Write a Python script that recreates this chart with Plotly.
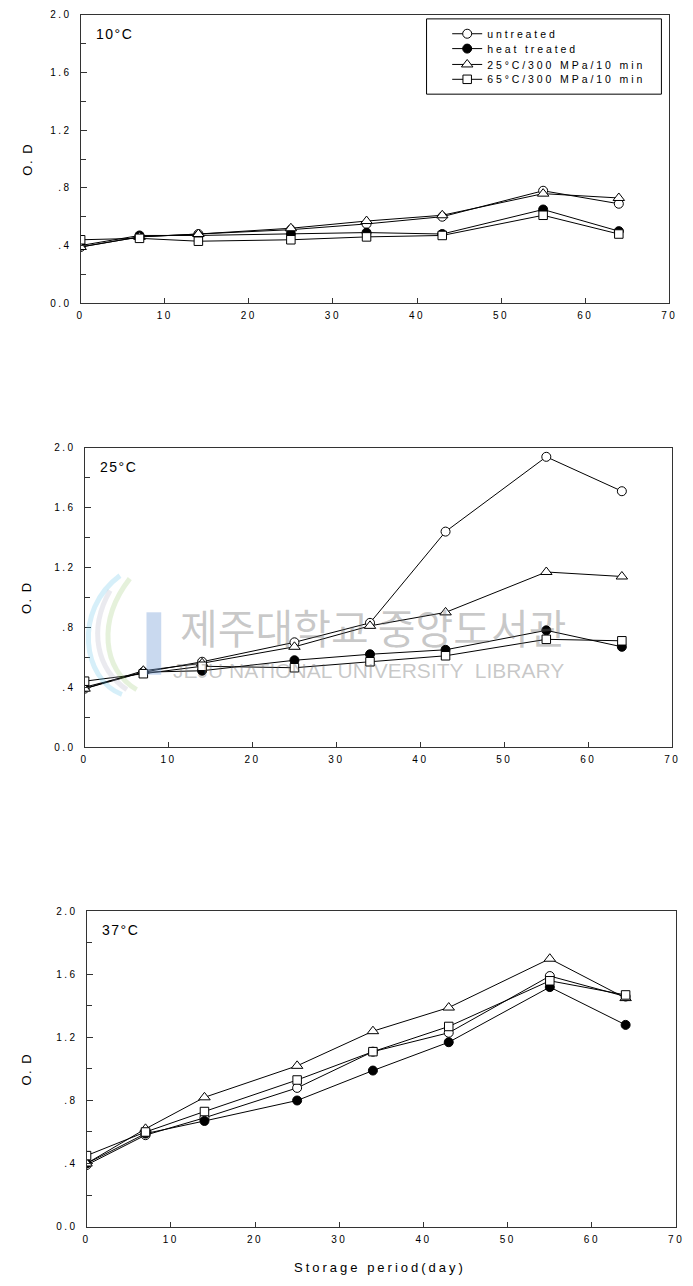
import plotly.graph_objects as go

W, H = 693, 1286
FONT = "Liberation Sans, Arial, sans-serif"

# ---- data -------------------------------------------------------------
days = [0, 7, 14, 25, 34, 43, 55, 64]
series_names = ["untreated", "heat treated", "25°C/300 MPa/10 min", "65°C/300 MPa/10 min"]
panel_labels = ["10°C", "25°C", "37°C"]
x_ticks = [0, 10, 20, 30, 40, 50, 60, 70]
y_ticks = [0.0, 0.4, 0.8, 1.2, 1.6, 2.0]
y_tick_labels = ["0.0", ".4", ".8", "1.2", "1.6", "2.0"]
y_minor_ticks = [0.2, 0.6, 1.0, 1.4, 1.8]

# storage at 10 °C
od10_untreated = [0.39, 0.46, 0.48, 0.51, 0.55, 0.60, 0.78, 0.69]
od10_heat = [0.40, 0.47, 0.47, 0.48, 0.49, 0.48, 0.65, 0.50]
od10_hhp25 = [0.39, 0.46, 0.48, 0.52, 0.57, 0.61, 0.76, 0.73]
od10_hhp65 = [0.44, 0.45, 0.43, 0.44, 0.46, 0.47, 0.61, 0.48]

# storage at 25 °C
od25_untreated = [0.39, 0.50, 0.57, 0.70, 0.83, 1.44, 1.94, 1.71]
od25_heat = [0.40, 0.50, 0.51, 0.58, 0.62, 0.65, 0.78, 0.67]
od25_hhp25 = [0.39, 0.51, 0.56, 0.67, 0.81, 0.90, 1.17, 1.14]
od25_hhp65 = [0.44, 0.49, 0.54, 0.53, 0.57, 0.61, 0.72, 0.71]

# storage at 37 °C
od37_untreated = [0.39, 0.58, 0.69, 0.88, 1.11, 1.23, 1.59, 1.46]
od37_heat = [0.40, 0.59, 0.67, 0.80, 0.99, 1.17, 1.52, 1.28]
od37_hhp25 = [0.40, 0.62, 0.82, 1.02, 1.24, 1.39, 1.70, 1.45]
od37_hhp65 = [0.45, 0.60, 0.73, 0.93, 1.11, 1.27, 1.56, 1.47]

panels = [
    [od10_untreated, od10_heat, od10_hhp25, od10_hhp65],
    [od25_untreated, od25_heat, od25_hhp25, od25_hhp65],
    [od37_untreated, od37_heat, od37_hhp25, od37_hhp65],
]

# ---- styling ------------------------------------------------------------
marker_symbols = ["circle", "circle", "triangle-up", "square"]
marker_fill = ["white", "black", "white", "white"]
marker_size = [9, 9, 10, 8.5]
legend_ids = ["legend", "legend2", "legend3", "legend4"]
legend_rows = [28, 43, 59, 74]          # pixel row of each legend entry

# plot boxes in pixels: left, right, top, bottom
boxes = [(78, 677, 9, 300), (82, 680, 446, 748), (84, 684, 914, 1232)]


def fx(p):
    return p / W


def fy(p):
    return 1 - p / H


def spaced(text, px):
    return f'<span style="letter-spacing:{px}px">{text}</span>'


fig = go.Figure()

for i, series in enumerate(panels):
    suffix = "" if i == 0 else str(i + 1)
    for j, vals in enumerate(series):
        fig.add_trace(go.Scatter(
            x=days, y=vals,
            xaxis="x" + suffix, yaxis="y" + suffix,
            mode="lines+markers",
            name=spaced(series_names[j], 2.9),
            legend=legend_ids[j],
            showlegend=(i == 0),
            line=dict(color="black", width=1),
            marker=dict(symbol=marker_symbols[j], size=marker_size[j],
                        color=marker_fill[j],
                        line=dict(color="black", width=1)),
            hoverinfo="x+y",
        ))

layout = dict(
    width=W, height=H,
    margin=dict(l=0, r=0, t=0, b=0),
    paper_bgcolor="white",
    plot_bgcolor="white",
    font=dict(family=FONT, color="black", size=10),
    annotations=[],
    shapes=[],
)

axis_color = "#333333"
for i, (x0, x1, y0, y1) in enumerate(boxes):
    suffix = "" if i == 0 else str(i + 1)
    layout["xaxis" + suffix] = dict(
        domain=[fx(x0), fx(x1)], range=[0, 70], anchor="y" + suffix,
        tickmode="array", tickvals=x_ticks,
        ticktext=[spaced(str(t), 2.5) for t in x_ticks],
        ticks="inside", ticklen=5, tickcolor=axis_color, tickwidth=1,
        showline=True, mirror=True, linecolor=axis_color, linewidth=1,
        showgrid=False, zeroline=False,
        tickfont=dict(size=10, family=FONT), ticklabelstandoff=3,
    )
    layout["yaxis" + suffix] = dict(
        domain=[fy(y1), fy(y0)], range=[0, 2], anchor="x" + suffix,
        tickmode="array", tickvals=y_ticks,
        ticktext=[spaced(t, 2.5) for t in y_tick_labels],
        ticks="inside", ticklen=6, tickcolor=axis_color, tickwidth=1,
        minor=dict(tickmode="array", tickvals=y_minor_ticks, ticks="inside",
                   ticklen=5, tickcolor=axis_color, showgrid=False),
        showline=True, mirror=True, linecolor=axis_color, linewidth=1,
        showgrid=False, zeroline=False,
        tickfont=dict(size=10, family=FONT), ticklabelstandoff=6,
    )
    # temperature label inside the frame
    layout["annotations"].append(dict(
        text=spaced(panel_labels[i], 1.5), xref="paper", yref="paper",
        x=fx(x0 + 14), y=fy(y0 + 19), xanchor="left", yanchor="middle",
        showarrow=False, font=dict(size=14, family=FONT, color="black"),
    ))
    # y-axis title
    layout["annotations"].append(dict(
        text=spaced("O. D", 1.5), xref="paper", yref="paper",
        x=fx(23), y=fy((y0 + y1) / 2), xanchor="center", yanchor="middle",
        textangle=-90, showarrow=False,
        font=dict(size=13, family=FONT, color="black"),
    ))

layout["annotations"].append(dict(
    text=spaced("Storage period(day)", 3), xref="paper", yref="paper",
    x=fx(383), y=fy(1273), xanchor="center", yanchor="middle",
    showarrow=False, font=dict(size=13, family=FONT, color="black"),
))

# legend: one entry per legend so the row spacing can be set exactly
for lid, row in zip(legend_ids, legend_rows):
    layout[lid] = dict(
        x=fx(451), y=fy(row), xanchor="left", yanchor="middle",
        bgcolor="rgba(0,0,0,0)", borderwidth=0,
        font=dict(size=10.5, family=FONT, color="black"),
    )
layout["shapes"].append(dict(
    type="rect", xref="paper", yref="paper",
    x0=fx(430), x1=fx(669), y0=fy(89), y1=fy(13),
    line=dict(color="black", width=1), fillcolor="rgba(0,0,0,0)", layer="above",
))

# library watermark over the 25 °C panel
wm = "rgba(110,110,110,0.38)"
layout["annotations"].append(dict(
    text="제주대학교 중앙도서관", xref="paper", yref="paper",
    x=fx(375), y=fy(626), xanchor="center", yanchor="middle", showarrow=False,
    font=dict(size=41, family="Noto Sans CJK KR", color=wm),
))
layout["annotations"].append(dict(
    text="JEJU NATIONAL UNIVERSITY  LIBRARY", xref="paper", yref="paper",
    x=fx(371), y=fy(671), xanchor="center", yanchor="middle", showarrow=False,
    font=dict(size=21, family=FONT, color=wm),
))
layout["shapes"].append(dict(
    type="rect", xref="paper", yref="paper",
    x0=fx(145), x1=fx(160), y0=fy(675), y1=fy(612),
    line=dict(width=0), fillcolor="rgba(120,160,215,0.4)", layer="above",
))


def swoosh(points):
    (ax, ay), (bx, by), (cx, cy), (dx, dy) = points
    return (f"M {fx(ax)},{fy(ay)} C {fx(bx)},{fy(by)} "
            f"{fx(cx)},{fy(cy)} {fx(dx)},{fy(dy)}")


for pts, col in [
    ([(118, 575), (70, 610), (80, 680), (120, 695)], "rgba(90,190,230,0.25)"),
    ([(128, 578), (95, 620), (100, 670), (135, 690)], "rgba(150,200,110,0.25)"),
    ([(108, 590), (85, 630), (95, 670), (125, 690)], "rgba(170,170,190,0.25)"),
]:
    layout["shapes"].append(dict(
        type="path", xref="paper", yref="paper", path=swoosh(pts),
        line=dict(color=col, width=5), layer="above",
    ))

fig.update_layout(**layout)
fig.write_html("out.html")
